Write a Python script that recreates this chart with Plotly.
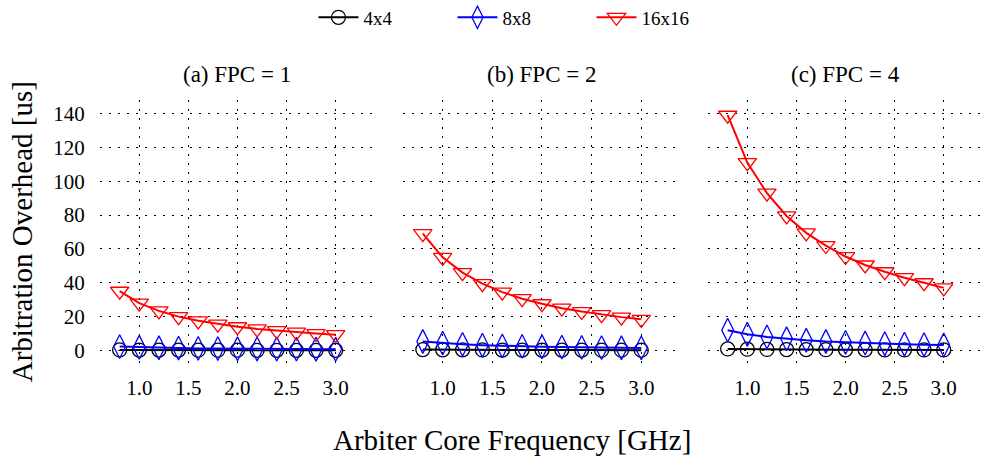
import plotly.graph_objects as go

freq = [0.8, 1.0, 1.2, 1.4, 1.6, 1.8, 2.0, 2.2, 2.4, 2.6, 2.8, 3.0]
panel_titles = ["(a) FPC = 1", "(b) FPC = 2", "(c) FPC = 4"]
series_names = ["4x4", "8x8", "16x16"]

# FPC = 1
fpc1_4x4 = [0.3, 0.25, 0.2, 0.2, 0.15, 0.15, 0.15, 0.1, 0.1, 0.1, 0.1, 0.1]
fpc1_8x8 = [2.3, 1.9, 1.6, 1.4, 1.2, 1.1, 1.0, 0.9, 0.85, 0.8, 0.75, 0.7]
fpc1_16x16 = [35.0, 28.0, 23.4, 20.0, 17.5, 15.6, 14.0, 12.7, 11.7, 10.8, 10.0, 9.3]
# FPC = 2
fpc2_4x4 = [0.5, 0.4, 0.35, 0.3, 0.25, 0.25, 0.2, 0.2, 0.2, 0.15, 0.15, 0.15]
fpc2_8x8 = [5.3, 4.3, 3.6, 3.1, 2.7, 2.4, 2.2, 2.0, 1.8, 1.7, 1.6, 1.5]
fpc2_16x16 = [69.0, 55.0, 46.0, 39.5, 34.5, 30.6, 27.6, 25.0, 23.0, 21.2, 19.7, 18.4]
# FPC = 4
fpc4_4x4 = [0.9, 0.75, 0.6, 0.55, 0.5, 0.45, 0.4, 0.35, 0.35, 0.3, 0.3, 0.3]
fpc4_8x8 = [12.0, 9.6, 8.0, 6.9, 6.0, 5.3, 4.8, 4.4, 4.0, 3.7, 3.4, 3.2]
fpc4_16x16 = [139.0, 111.0, 93.0, 79.5, 69.5, 62.0, 55.5, 50.5, 46.5, 43.0, 40.0, 37.0]

y_ticks = [0, 20, 40, 60, 80, 100, 120, 140]
x_ticks = [1.0, 1.5, 2.0, 2.5, 3.0]
x_tick_text = ["1.0", "1.5", "2.0", "2.5", "3.0"]

panels = [
    [fpc1_4x4, fpc1_8x8, fpc1_16x16],
    [fpc2_4x4, fpc2_8x8, fpc2_16x16],
    [fpc4_4x4, fpc4_8x8, fpc4_16x16],
]

styles = [
    dict(color="black", symbol="circle-open", size=14),
    dict(color="blue", symbol="diamond-tall-open", size=17),
    dict(color="red", symbol="triangle-down-open", size=16),
]

FONT = "Liberation Serif"
fig = go.Figure()

for p, data in enumerate(panels):
    xa = "x" if p == 0 else f"x{p+1}"
    ya = "y" if p == 0 else f"y{p+1}"
    for s, vals in enumerate(data):
        st = styles[s]
        fig.add_trace(go.Scatter(
            x=freq, y=vals, mode="lines+markers", name=series_names[s],
            xaxis=xa, yaxis=ya, showlegend=(p == 0), legendgroup=series_names[s],
            line=dict(color=st["color"], width=2),
            marker=dict(symbol=st["symbol"], size=st["size"], color=st["color"],
                        line=dict(color=st["color"], width=1.3)),
            cliponaxis=False,
        ))

domains = [[0.0, 0.3114], [0.3431, 0.658], [0.6886, 1.0]]
grid = dict(showgrid=True, gridcolor="black", gridwidth=1.3, griddash="2px,7px",
            zeroline=False, showline=False)
layout = dict(
    width=983, height=459,
    margin=dict(l=100, r=0, t=100, b=95),
    paper_bgcolor="white", plot_bgcolor="white",
    font=dict(family=FONT, color="black", size=18),
    showlegend=True,
    legend=dict(orientation="h", xref="container", yref="container",
                x=0.531, xanchor="center", y=0.962, yanchor="middle",
                font=dict(size=19, family=FONT), entrywidth=84, itemwidth=40,
                bgcolor="rgba(0,0,0,0)"),
)
for p in range(3):
    kx = "xaxis" if p == 0 else f"xaxis{p+1}"
    ky = "yaxis" if p == 0 else f"yaxis{p+1}"
    layout[kx] = dict(domain=domains[p], range=[0.6, 3.4], tickvals=x_ticks,
                      ticktext=x_tick_text, ticks="outside", ticklen=5,
                      tickcolor="rgba(0,0,0,0)", tickfont=dict(size=21),
                      anchor="y" if p == 0 else f"y{p+1}", **grid)
    layout[ky] = dict(domain=[0, 1], range=[-8, 148], tickvals=y_ticks,
                      showticklabels=(p == 0), ticks="outside", ticklen=10,
                      tickcolor="rgba(0,0,0,0)", tickfont=dict(size=21),
                      anchor="x" if p == 0 else f"x{p+1}", **grid)
fig.update_layout(**layout)

annotations = []
for p in range(3):
    annotations.append(dict(text=panel_titles[p], xref="paper", yref="paper",
                            x=(domains[p][0] + domains[p][1]) / 2, y=1.095,
                            xanchor="center", yanchor="middle", showarrow=False,
                            font=dict(size=23, family=FONT)))
annotations.append(dict(text="Arbitration Overhead [us]", xref="paper", yref="paper",
                        x=-0.088, y=0.5, xanchor="center", yanchor="middle",
                        textangle=-90, showarrow=False, font=dict(size=29, family=FONT)))
annotations.append(dict(text="Arbiter Core Frequency [GHz]", xref="paper", yref="paper",
                        x=0.4666, y=-0.288, xanchor="center", yanchor="middle",
                        showarrow=False, font=dict(size=29, family=FONT)))
fig.update_layout(annotations=annotations)

fig.write_html("out.html")
